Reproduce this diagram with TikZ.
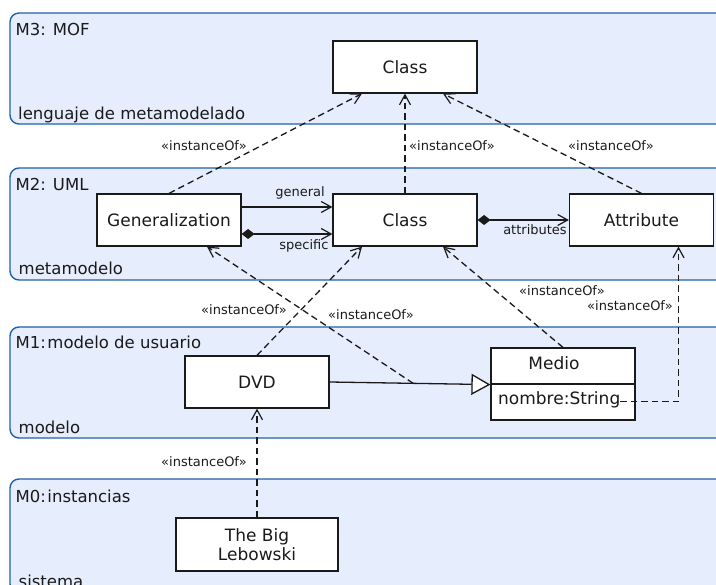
\documentclass[tikz,border=0pt]{standalone}
\usepackage{fontspec}
\setmainfont{DejaVu Sans}
\usetikzlibrary{arrows.meta}
\definecolor{layerfill}{HTML}{E6EDFC}
\definecolor{layerline}{HTML}{2060A8}
\definecolor{ink}{HTML}{1A1A1A}
\begin{document}
\begin{tikzpicture}[x=1pt,y=-1pt,
  layer/.style={draw=layerline,fill=layerfill,line width=1.4pt,rounded corners=9pt},
  layertext/.style={inner sep=0pt,anchor=base west,text=ink,font=\fontsize{16.5}{19}\selectfont},
  umlbox/.style={draw=ink,fill=white,line width=1.2pt,minimum width=144pt,minimum height=52pt,
    inner sep=0pt,text=ink,font=\fontsize{17}{19}\selectfont,text height=12.4pt,text depth=0pt},
  plain/.style={inner sep=0pt,text=ink,font=\fontsize{17}{19}\selectfont},
  tag/.style={inner sep=0pt,anchor=mid,text=ink,font=\fontsize{13}{15}\selectfont},
  barb/.tip={Straight Barb[length=10pt,width=11pt,line width=1.2pt]},
  inst/.style={draw=ink,line width=1.3pt,dash pattern=on 6.5pt off 4pt,-barb},
  assoc/.style={draw=ink,line width=1.3pt,-barb},
  comp/.style={draw=ink,line width=1.3pt,{Diamond[length=13pt,width=10pt]}-barb},
  inherit/.style={draw=ink,line width=1.3pt,-{Triangle[open,length=19pt,width=21pt,fill=white]}}]

\clip (0,0) rectangle (716,585);
\useasboundingbox (0,0) rectangle (716,585);

% meta levels
\path[layer] (10,13) rectangle (740,124);
\path[layer] (10,168) rectangle (740,280);
\path[layer] (10,327) rectangle (740,438);
\path[layer] (10,479) rectangle (740,593);

\node[layertext] (m3) at (15.5,36) {M3: MOF};
\node[layertext] (m3sub) at (18,119.5) {lenguaje de metamodelado};
\node[layertext] (m2) at (15.5,191) {M2: UML};
\node[layertext] (m2sub) at (18.5,274.3) {metamodelo};
\node[layertext] (m1) at (15.5,349) {M1:\hspace{1.5pt}modelo de usuario};
\node[layertext] (m1sub) at (18.5,433.3) {modelo};
\node[layertext] (m0) at (15.5,502.7) {M0:\hspace{1.5pt}instancias};
\node[layertext] (m0sub) at (18.5,588) {sistema};

% M3
\node[umlbox] (cls3) at (405,67) {Class};

% M2
\node[umlbox] (gen) at (169,220) {Generalization};
\node[umlbox] (cls2) at (405,220) {Class};
\node[umlbox] (attr) at (641.5,220) {Attribute};

% M1
\node[umlbox] (dvd) at (257,382) {DVD};
\node[umlbox,minimum height=36pt] (medio) at (563,366) {};
\node[umlbox,minimum height=36pt] (medioattr) at (563,402) {};
\node[plain,anchor=mid] (medioname) at (554,366.4) {Medio};
\node[plain,anchor=mid west] (nombre) at (498,401.5) {nombre:String};

% M0
\node[umlbox,minimum width=162pt,minimum height=53pt,text height=,text depth=,align=center]
  (lebowski) at (257,544.5) {The Big\\Lebowski};

% relations inside M2 (yshift is in canvas units: positive is upwards)
\draw[assoc] ([yshift=13pt]gen.east) -- ([yshift=13pt]cls2.west);
\draw[comp] ([yshift=-14pt]gen.east) -- ([yshift=-14pt]cls2.west);
\draw[comp] (cls2.east) -- (attr.west);
\node[tag] (tgeneral) at (300,193.7) {general};
\node[tag] (tspecific) at (304,246.4) {specific};
\node[tag] (tattributes) at (535,232) {attributes};

% generalization in M1
\draw[inherit] (dvd.east) -- (medio.south west);
\path (dvd.east) -- (medio.south west) coordinate[pos=0.52] (genlink);

% instanceOf dependencies
\draw[inst] (gen.north) -- ([xshift=-43pt]cls3.south);
\draw[inst] (cls2.north) -- (cls3.south);
\draw[inst] (attr.north) -- ([xshift=38pt]cls3.south);
\draw[inst] (dvd.north) -- ([xshift=-43pt]cls2.south);
\draw[inst] (genlink) -- ([xshift=38pt]gen.south);
\draw[inst] (medio.north) -- ([xshift=38pt]cls2.south);
\draw[inst] (nombre.mid east) -| ([xshift=37pt]attr.south);
\draw[inst] (lebowski.north) -- (dvd.south);

\node[tag] (i1) at (204,148) {«instanceOf»};
\node[tag] (i2) at (452,148) {«instanceOf»};
\node[tag] (i3) at (611,148) {«instanceOf»};
\node[tag] (i4) at (244,312) {«instanceOf»};
\node[tag] (i5) at (371,316.4) {«instanceOf»};
\node[tag] (i6) at (562,293) {«instanceOf»};
\node[tag] (i7) at (630,308) {«instanceOf»};
\node[tag] (i8) at (204,463.7) {«instanceOf»};
\end{tikzpicture}
\end{document}
